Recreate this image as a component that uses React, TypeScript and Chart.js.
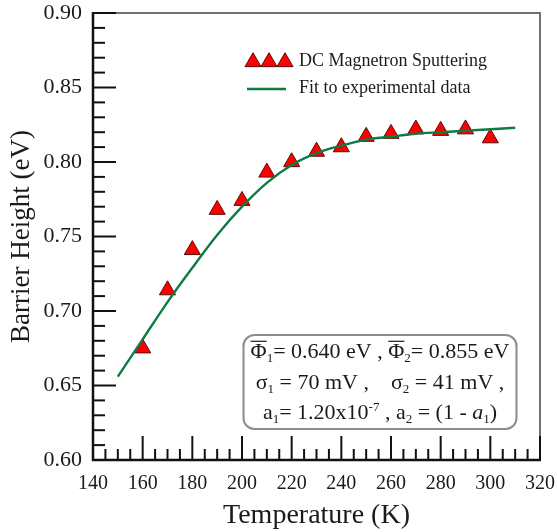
import React, { useEffect, useRef } from 'react';
import { Chart, registerables } from 'chart.js';

Chart.register(...registerables);

// ---- data ----
const temperatures = [160, 170, 180, 190, 200, 210, 220, 230, 240, 250, 260, 270, 280, 290, 300];
const barrierHeights = [0.675, 0.714, 0.741, 0.768, 0.774, 0.793, 0.800, 0.807, 0.810, 0.817, 0.819, 0.822, 0.821, 0.822, 0.816];

const fitTemperatures = [150, 160, 170, 180, 190, 200, 210, 220, 230, 240, 250, 260, 270, 280, 290, 300, 310];
const fitHeights = [0.656, 0.681, 0.706, 0.729, 0.751, 0.770, 0.786, 0.798, 0.806, 0.811, 0.815, 0.817, 0.819, 0.820, 0.821, 0.822, 0.823];

const xMin = 140;
const xMax = 320;
const xStep = 20;
const yMin = 0.6;
const yMax = 0.9;
const yStep = 0.05;

const scatterLabel = 'DC Magnetron Sputtering';
const fitLabel = 'Fit to experimental data';
const xTitle = 'Temperature (K)';
const yTitle = 'Barrier Height (eV)';

type Run = { t: string; sub?: boolean; sup?: boolean; it?: boolean; over?: boolean };
const boxLines: Run[][] = [
  [
    { t: 'Φ', over: true }, { t: '1', sub: true }, { t: '= 0.640 eV , ' },
    { t: 'Φ', over: true }, { t: '2', sub: true }, { t: '= 0.855 eV' },
  ],
  [
    { t: 'σ' }, { t: '1', sub: true }, { t: ' = 70 mV ,    σ' }, { t: '2', sub: true }, { t: ' = 41 mV ,' },
  ],
  [
    { t: 'a' }, { t: '1', sub: true }, { t: '= 1.20x10' }, { t: '-7', sup: true }, { t: ' , a' }, { t: '2', sub: true },
    { t: ' = (1 - ' }, { t: 'a', it: true }, { t: '1', sub: true }, { t: ')' },
  ],
];

const SERIF = '"Liberation Serif", "Times New Roman", Times, serif';
const RED = '#ff0000';
const RED_EDGE = '#5a0a0a';
const GREEN = '#0f7a42';

function drawRuns(ctx: CanvasRenderingContext2D, runs: Run[], cx: number, baseY: number, size: number) {
  const fontFor = (r: Run) => `${r.it ? 'italic ' : ''}${r.sub || r.sup ? Math.round(size * 0.6) : size}px ${SERIF}`;
  let total = 0;
  const widths: number[] = [];
  for (const r of runs) {
    ctx.font = fontFor(r);
    const w = ctx.measureText(r.t).width;
    widths.push(w);
    total += w;
  }
  let x = cx - total / 2;
  ctx.textAlign = 'left';
  ctx.textBaseline = 'alphabetic';
  runs.forEach((r, i) => {
    ctx.font = fontFor(r);
    let y = baseY;
    if (r.sub) y += size * 0.2;
    if (r.sup) y -= size * 0.38;
    ctx.fillText(r.t, x, y);
    if (r.over) {
      ctx.beginPath();
      ctx.lineWidth = 1.2;
      ctx.moveTo(x, baseY - size * 0.76);
      ctx.lineTo(x + widths[i], baseY - size * 0.76);
      ctx.stroke();
    }
    x += widths[i];
  });
}

function tri(ctx: CanvasRenderingContext2D, cx: number, cy: number, r: number) {
  ctx.beginPath();
  ctx.moveTo(cx, cy - r);
  ctx.lineTo(cx + r * Math.sin((2 * Math.PI) / 3), cy - r * Math.cos((2 * Math.PI) / 3));
  ctx.lineTo(cx + r * Math.sin((4 * Math.PI) / 3), cy - r * Math.cos((4 * Math.PI) / 3));
  ctx.closePath();
  ctx.fillStyle = RED;
  ctx.fill();
  ctx.strokeStyle = RED_EDGE;
  ctx.lineWidth = 1;
  ctx.stroke();
}

const framePlugin = {
  id: 'frameAndAnnotations',
  afterDraw(chart: any) {
    const { ctx, chartArea: a, scales } = chart;
    const x = scales.x;
    const y = scales.y;
    ctx.save();
    // top & right border (grey)
    ctx.strokeStyle = '#707070';
    ctx.lineWidth = 2;
    ctx.beginPath();
    ctx.moveTo(a.left, a.top);
    ctx.lineTo(a.right, a.top);
    ctx.lineTo(a.right, a.bottom);
    ctx.stroke();

    // inward ticks
    ctx.strokeStyle = '#111';
    ctx.lineWidth = 2;
    for (let i = Math.round(yMin * 100); i <= Math.round(yMax * 100); i++) {
      const py = y.getPixelForValue(i / 100);
      const len = i % 5 === 0 ? 23 : 12;
      ctx.beginPath();
      ctx.moveTo(a.left, py);
      ctx.lineTo(a.left + len, py);
      ctx.stroke();
    }
    for (let t = xMin; t <= xMax; t += 5) {
      const px = x.getPixelForValue(t);
      const len = (t - xMin) % xStep === 0 ? 24 : 11;
      ctx.beginPath();
      ctx.moveTo(px, a.bottom);
      ctx.lineTo(px, a.bottom - len);
      ctx.stroke();
    }
    // left & bottom axes
    ctx.lineWidth = 2.5;
    ctx.beginPath();
    ctx.moveTo(a.left, a.top - 1);
    ctx.lineTo(a.left, a.bottom);
    ctx.lineTo(a.right + 1, a.bottom);
    ctx.stroke();

    // legend
    tri(ctx, 253, 62, 9.3);
    tri(ctx, 269, 62, 9.3);
    tri(ctx, 285, 62, 9.3);
    ctx.strokeStyle = GREEN;
    ctx.lineWidth = 2.5;
    ctx.beginPath();
    ctx.moveTo(247, 89);
    ctx.lineTo(286, 89);
    ctx.stroke();
    ctx.fillStyle = '#1a1a1a';
    ctx.font = `18px ${SERIF}`;
    ctx.textAlign = 'left';
    ctx.textBaseline = 'middle';
    ctx.fillText(scatterLabel, 299, 61);
    ctx.fillText(fitLabel, 299, 88);

    // parameter box
    ctx.beginPath();
    (ctx as any).roundRect(243.5, 335, 273, 94, 11);
    ctx.fillStyle = '#ffffff';
    ctx.fill();
    ctx.strokeStyle = '#8c8c8c';
    ctx.lineWidth = 2;
    ctx.stroke();
    ctx.fillStyle = '#1a1a1a';
    ctx.strokeStyle = '#1a1a1a';
    const bases = [358, 389, 419];
    boxLines.forEach((runs, i) => drawRuns(ctx, runs, 380, bases[i], 22));
    ctx.restore();
  },
};

export default function App() {
  const ref = useRef<HTMLCanvasElement | null>(null);
  useEffect(() => {
    if (!ref.current) return;
    const chart = new Chart(ref.current, {
      type: 'scatter',
      data: {
        datasets: [
          {
            label: fitLabel,
            data: fitTemperatures.map((t, i) => ({ x: t, y: fitHeights[i] })),
            showLine: true,
            borderColor: GREEN,
            borderWidth: 2.4,
            pointRadius: 0,
            tension: 0.4,
            cubicInterpolationMode: 'monotone',
            order: 0,
          } as any,
          {
            label: scatterLabel,
            data: temperatures.map((t, i) => ({ x: t, y: barrierHeights[i] })),
            pointStyle: 'triangle',
            pointRadius: 9.3,
            backgroundColor: RED,
            borderColor: RED_EDGE,
            borderWidth: 1,
            order: 1,
          } as any,
        ],
      },
      options: {
        animation: false,
        responsive: false,
        devicePixelRatio: 1,
        layout: { padding: { left: 0, right: 17, top: 13, bottom: 0 } },
        plugins: { legend: { display: false }, tooltip: { enabled: false } },
        scales: {
          x: {
            type: 'linear',
            min: xMin,
            max: xMax,
            grid: { display: false, drawTicks: false },
            border: { display: false },
            ticks: {
              stepSize: xStep,
              padding: 12,
              color: '#1a1a1a',
              font: { family: SERIF, size: 20 },
              maxRotation: 0,
            },
            title: {
              display: true,
              text: xTitle,
              color: '#1a1a1a',
              font: { family: SERIF, size: 28 },
              padding: { top: 0, bottom: 0 },
            },
            afterFit: (s: any) => { s.height = 72; s.paddingLeft = 0; s.paddingRight = 0; },
          },
          y: {
            type: 'linear',
            min: yMin,
            max: yMax,
            grid: { display: false, drawTicks: false },
            border: { display: false },
            ticks: {
              stepSize: yStep,
              padding: 11,
              color: '#1a1a1a',
              font: { family: SERIF, size: 22 },
              callback: (v: any) => Number(v).toFixed(2),
            },
            title: {
              display: true,
              text: yTitle,
              color: '#1a1a1a',
              font: { family: SERIF, size: 27 },
              padding: { top: 6, bottom: 0 },
            },
            afterFit: (s: any) => { s.width = 93; s.paddingTop = 0; s.paddingBottom = 0; },
          },
        },
      } as any,
      plugins: [framePlugin],
    });
    return () => chart.destroy();
  }, []);
  return (
    <div style={{ position: 'fixed', left: 0, top: 0, width: 557, height: 532, background: '#fff' }}>
      <canvas ref={ref} width={557} height={532} />
    </div>
  );
}
